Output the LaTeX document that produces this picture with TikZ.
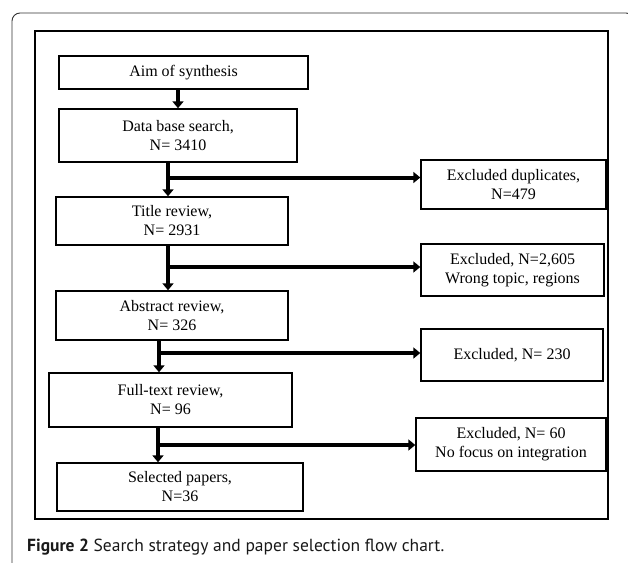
\documentclass[tikz,border=0pt]{standalone}
\usepackage{fontspec}
\setmainfont{Liberation Serif}
\newfontfamily\capfont{PT Sans}
\usetikzlibrary{arrows.meta}
\usetikzlibrary{positioning}
\tikzset{x=1pt, y=-1pt,
stage/.style={
draw,
line width=1.4pt,
align=center,
inner sep=2pt,
font=\fontsize{16}{19}\selectfont},
flow/.style={
line width=4pt,
-{Triangle[width=11pt,length=7pt]}},
branch/.style={
line width=4pt}}

\begin{document}
\begin{tikzpicture}
\useasboundingbox (0,0) rectangle (628,562);
\clip (0,0) rectangle (628,562);
\draw[line width=0.9pt, black!80, rounded corners=8pt] (12,580) -- (12,13) -- (634,13) -- (634,580);
\draw[line width=2pt] (35,31) rectangle (608,519);
\node[stage, minimum width=249pt, minimum height=33pt] (aim) at (183.5,72.5) {Aim of synthesis};
\node[stage, minimum width=238pt, minimum height=53pt] (db) at (178,135.5) {Data base search,\\N= 3410};
\node[stage, minimum width=232pt, minimum height=48pt] (title) at (172,221) {Title review,\\N= 2931};
\node[stage, minimum width=232pt, minimum height=49pt] (abs) at (172,315.5) {Abstract review,\\N= 326};
\node[stage, minimum width=243pt, minimum height=54pt] (full) at (170.5,400) {Full-text review,\\N= 96};
\node[stage, minimum width=246pt, minimum height=48pt] (sel) at (180,487) {Selected papers,\\N=36};
\node[stage, minimum width=185pt, minimum height=49pt] (exdup) at (513.5,184.5) {Excluded duplicates,\\N=479};
\node[stage, minimum width=183pt, minimum height=52pt] (extopic) at (512.5,270) {Excluded, N=2,605\\Wrong topic, regions};
\node[stage, minimum width=182pt, minimum height=52pt] (exabs) at (512,355) {Excluded, N= 230};
\node[stage, minimum width=190pt, minimum height=53pt] (exfocus) at (511,444.5) {Excluded, N= 60\\No focus on integration};
\coordinate (b1) at (168,177.5);
\coordinate (b2) at (168,267);
\coordinate (b3) at (159,353);
\coordinate (b4) at (158,445);
\draw[flow] (aim.south -| db.north) -- (db.north);
\draw[flow] (db.south -| b1) -- (title.north -| b1);
\draw[flow] (b1) -- (exdup.west |- b1);
\draw[flow] (title.south -| b2) -- (abs.north -| b2);
\draw[flow] (b2) -- (extopic.west |- b2);
\draw[flow] (abs.south -| b3) -- (full.north -| b3);
\draw[flow] (b3) -- (exabs.west |- b3);
\draw[flow] (full.south -| b4) -- (sel.north -| b4);
\draw[flow] (b4) -- (exfocus.west |- b4);
\node[anchor=base west, inner sep=0pt, text=black!90, font=\capfont\fontsize{17.5}{20}\selectfont] (cap) at (27,551) {\textbf{Figure 2} Search strategy and paper selection flow chart.};
\end{tikzpicture}
\end{document}
